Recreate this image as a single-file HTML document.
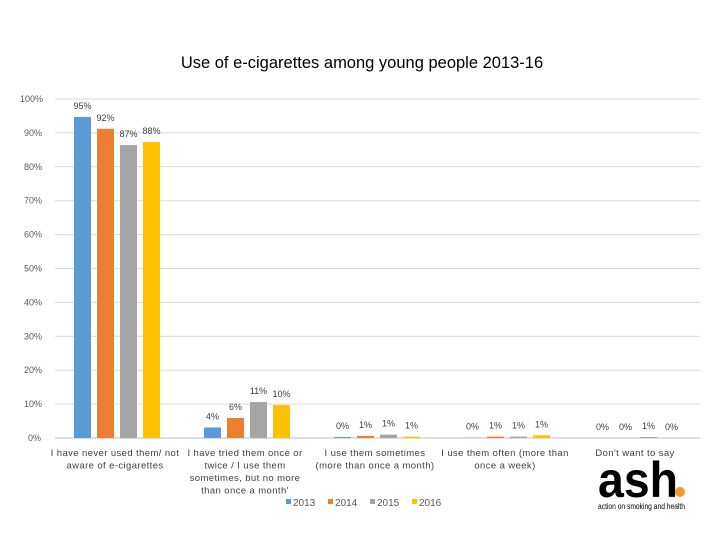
<!DOCTYPE html>
<html><head><meta charset="utf-8"><style>
body{margin:0;background:#fff;width:720px;height:540px;overflow:hidden;font-family:"Liberation Sans",sans-serif}
text{font-family:"Liberation Sans",sans-serif}
</style></head><body>
<svg id="chart" width="720" height="540" xmlns="http://www.w3.org/2000/svg">
<text x="362" y="68" text-anchor="middle" font-size="16.5" fill="#000">Use of e-cigarettes among young people 2013-16</text>
<g id="grid"></g><g id="bars"></g><g id="labels"></g><g id="cats"></g>
<g id="legend"></g>
<g>
<text x="598" y="497" font-size="50" font-weight="bold" fill="#000" textLength="80" lengthAdjust="spacingAndGlyphs">ash</text>
<circle cx="680" cy="492" r="5" fill="#f39a2b"/>
<text x="598" y="509" font-size="8" fill="#000" textLength="87" lengthAdjust="spacingAndGlyphs">action on smoking and health</text>
</g>
</svg>
<script>
const categories=[["I have never used them/ not","aware of e-cigarettes"],["I have tried them once or","twice / I use them","sometimes, but no more","than once a month'"],["I use them sometimes","(more than once a month)"],["I use them often (more than","once a week)"],["Don't want to say"]];
const years=["2013","2014","2015","2016"];
const s2013=[94.7,3.1,0.3,0.1,0];
const s2014=[91.2,5.9,0.6,0.4,0];
const s2015=[86.4,10.6,1.0,0.4,0.3];
const s2016=[87.3,9.7,0.4,0.8,0];
const lab2013=["95%","4%","0%","0%","0%"];
const lab2014=["92%","6%","1%","1%","0%"];
const lab2015=["87%","11%","1%","1%","1%"];
const lab2016=["88%","10%","1%","1%","0%"];
const yTicks=[0,10,20,30,40,50,60,70,80,90,100];
const colors=["#5b9bd5","#ed7d31","#a5a5a5","#ffc000"];
const series=[s2013,s2014,s2015,s2016],labs=[lab2013,lab2014,lab2015,lab2016];
const NS="http://www.w3.org/2000/svg";
const y=v=>438-v*3.39;
const cx=i=>117+i*130;
const bx=(i,j)=>cx(i)-43+j*23;
function mk(t,a,p,txt){const e=document.createElementNS(NS,t);for(const k in a)e.setAttribute(k,a[k]);if(txt!==undefined)e.textContent=txt;document.getElementById(p).appendChild(e);return e;}
yTicks.forEach(t=>{
 const l=mk("line",{x1:55,x2:700,y1:y(t),y2:y(t),stroke:t==0?"#bfbfbf":"#d9d9d9","stroke-width":1},"grid");
 
 
 const tx=mk("text",{x:t==100?20:t==0?28:24,y:y(t)+3,"font-size":9,fill:"#595959"},"grid",t+"%");
 
 
});
series.forEach((s,j)=>s.forEach((v,i)=>{
 const r=mk("rect",{x:bx(i,j),y:y(v),width:17,height:Math.max(0,438-y(v)),fill:colors[j]},"bars");
 
 
 const t=mk("text",{x:bx(i,j)+8.5,y:y(v)-8,"font-size":9,fill:"#404040","text-anchor":"middle"},"labels",labs[j][i]);
 
 
}));
categories.forEach((c,i)=>c.forEach((ln,k)=>{
 const t=mk("text",{x:cx(i)-2,y:456+k*12.5,"font-size":9.5,fill:"#404040","text-anchor":"middle","letter-spacing":0.4},"cats",ln);
 
 
}));
years.forEach((yr,j)=>{
 const x=286+j*42;
 const r=mk("rect",{x:x,y:499,width:5,height:5,fill:colors[j]},"legend");
 
 
 const t=mk("text",{x:x+7,y:506,"font-size":10,fill:"#595959"},"legend",yr);
 
 
});
</script>
</body></html>
